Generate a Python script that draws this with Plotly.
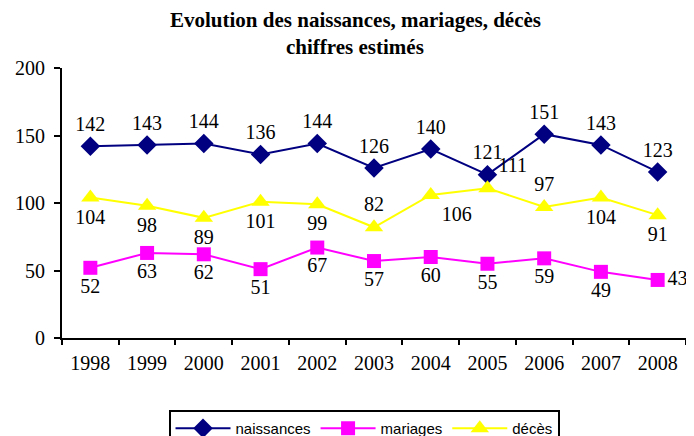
import plotly.graph_objects as go

years = ["1998", "1999", "2000", "2001", "2002", "2003", "2004", "2005", "2006", "2007", "2008"]
naissances = [142, 143, 144, 136, 144, 126, 140, 121, 151, 143, 123]
mariages = [52, 63, 62, 51, 67, 57, 60, 55, 59, 49, 43]
deces = [104, 98, 89, 101, 99, 82, 106, 111, 97, 104, 91]
title_lines = ["Evolution des naissances, mariages, décès", "chiffres estimés"]

pos_n = ["top center"] * 11
pos_m = ["bottom center"] * 10 + ["middle right"]
pos_d = ["bottom center", "bottom center", "bottom center", "bottom center", "bottom center",
         "top center", "bottom right", "top right", "top center", "bottom center", "bottom center"]

lab_font = dict(family="Liberation Serif", size=20, color="black")

fig = go.Figure()
fig.add_trace(go.Scatter(x=years, y=naissances, name="naissances", mode="lines+markers+text",
                         text=[str(v) for v in naissances], textposition=pos_n, textfont=lab_font,
                         cliponaxis=False,
                         line=dict(color="#000080", width=2),
                         marker=dict(symbol="diamond", size=15, color="#000080")))
fig.add_trace(go.Scatter(x=years, y=mariages, name="mariages", mode="lines+markers+text",
                         text=[str(v) for v in mariages], textposition=pos_m, textfont=lab_font,
                         cliponaxis=False,
                         line=dict(color="#FF00FF", width=2),
                         marker=dict(symbol="square", size=14, color="#FF00FF")))
fig.add_trace(go.Scatter(x=years, y=deces, name="décès", mode="lines+markers+text",
                         text=[str(v) for v in deces], textposition=pos_d, textfont=lab_font,
                         cliponaxis=False,
                         line=dict(color="#FFFF00", width=2),
                         marker=dict(symbol="triangle-up", size=16, color="#FFFF00")))

title_font = dict(family="Liberation Serif", size=21, color="black")
fig.add_annotation(text="<b>" + title_lines[0] + "</b>", xref="paper", yref="paper",
                   x=0.47, y=1.178, xanchor="center", yanchor="middle", showarrow=False, font=title_font)
fig.add_annotation(text="<b>" + title_lines[1] + "</b>", xref="paper", yref="paper",
                   x=0.47, y=1.078, xanchor="center", yanchor="middle", showarrow=False, font=title_font)

fig.update_layout(
    width=686, height=428,
    margin=dict(l=54, r=8, t=60, b=98, autoexpand=False),
    paper_bgcolor="white", plot_bgcolor="white",
    showlegend=True,
    legend=dict(orientation="h", x=0.484, xanchor="center", y=-0.267, yanchor="top",
                bordercolor="black", borderwidth=2,
                font=dict(family="Liberation Sans", size=15, color="black"),
                itemwidth=55),
    xaxis=dict(type="category", range=[-0.5, 10.5], showline=True, linecolor="black", linewidth=2,
               ticks="outside", tickson="boundaries", ticklen=5, tickcolor="black", tickwidth=2,
               showgrid=False, zeroline=False, ticklabelstandoff=6,
               tickfont=dict(family="Liberation Serif", size=20, color="black")),
    yaxis=dict(range=[0, 200], tickvals=[0, 50, 100, 150, 200], showline=True, linecolor="black",
               linewidth=2, ticks="outside", ticklen=6, tickcolor="black", tickwidth=2,
               showgrid=False, zeroline=False, ticklabelstandoff=5,
               tickfont=dict(family="Liberation Serif", size=20, color="black")),
)

fig.write_html("out.html")
